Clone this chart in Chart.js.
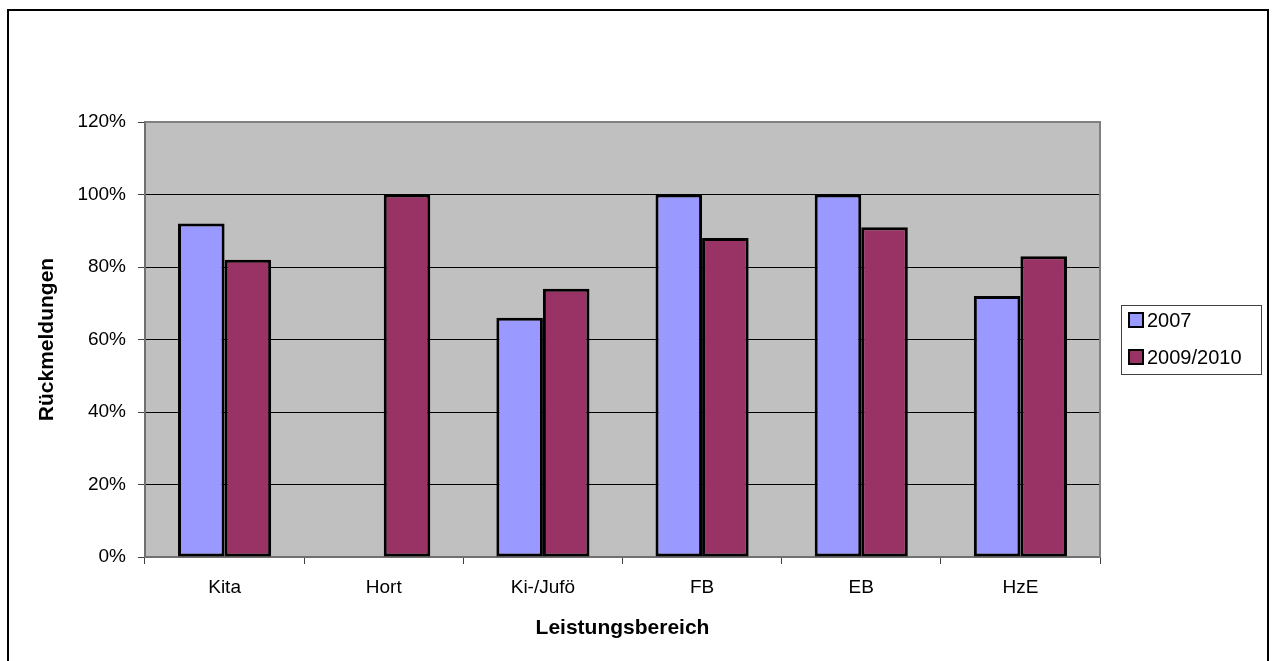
<!DOCTYPE html>
<html>
<head>
<meta charset="utf-8">
<script src="https://cdn.jsdelivr.net/npm/chart.js@4"></script>
<style>
html,body{margin:0;padding:0;background:#fff;}
#wrap{width:1272px;height:661px;}
</style>
</head>
<body>
<div id="wrap"><canvas id="c" width="1272" height="661"></canvas></div>
<script>
const categories = ["Kita", "Hort", "Ki-/Jufö", "FB", "EB", "HzE"];
const values2007 = [92, null, 66, 100, 100, 72];
const values2009 = [82, 100, 74, 88, 91, 83];
const seriesLabels = ["2007", "2009/2010"];
const seriesColors = ["#9999FF", "#993366"];
const yTicks = [0, 20, 40, 60, 80, 100, 120];
const yTitle = "Rückmeldungen";
const xTitle = "Leistungsbereich";

const FONT = "'Liberation Sans', Arial, sans-serif";

const framePlugin = {
  id: 'frame',
  beforeDraw(chart) {
    const {ctx, chartArea: a} = chart;
    ctx.save();
    ctx.fillStyle = '#fff';
    ctx.fillRect(0, 0, chart.width, chart.height);
    ctx.fillStyle = '#C0C0C0';
    ctx.fillRect(a.left, a.top, a.right - a.left, a.bottom - a.top);
    ctx.restore();
  },
  afterDraw(chart) {
    const {ctx, chartArea: a} = chart;
    ctx.save();
    ctx.strokeStyle = '#808080';
    ctx.lineWidth = 2;
    ctx.beginPath();
    ctx.moveTo(a.left, a.top);
    ctx.lineTo(a.right, a.top);
    ctx.lineTo(a.right, a.bottom);
    ctx.stroke();
    ctx.strokeStyle = '#000';
    ctx.lineWidth = 2;
    ctx.strokeRect(8, 10, 1260, 660);
    const lx = 1121, ly = 305, lw = 140, lh = 69;
    ctx.fillStyle = '#fff';
    ctx.fillRect(lx, ly, lw, lh);
    ctx.strokeStyle = '#404040';
    ctx.lineWidth = 1;
    ctx.strokeRect(lx + 0.5, ly + 0.5, lw, lh);
    ctx.font = '20px ' + FONT;
    ctx.textBaseline = 'middle';
    ctx.textAlign = 'left';
    chart.data.datasets.forEach((ds, i) => {
      const cy = 320 + i * 37;
      ctx.fillStyle = ds.backgroundColor;
      ctx.fillRect(1129, cy - 7, 14, 14);
      ctx.strokeStyle = '#000';
      ctx.lineWidth = 2;
      ctx.strokeRect(1129, cy - 7, 14, 14);
      ctx.fillStyle = '#000';
      ctx.fillText(ds.label, 1147, cy + 1);
    });
    ctx.restore();
  }
};

new Chart(document.getElementById('c'), {
  type: 'bar',
  data: {
    labels: categories,
    datasets: [
      {label: seriesLabels[0], data: values2007, backgroundColor: seriesColors[0], borderColor: '#000', borderWidth: 3, borderSkipped: false},
      {label: seriesLabels[1], data: values2009, backgroundColor: seriesColors[1], borderColor: '#000', borderWidth: 3, borderSkipped: false}
    ]
  },
  options: {
    responsive: false,
    animation: false,
    devicePixelRatio: 1,
    layout: {padding: {top: 122, right: 172, left: 0, bottom: 0}},
    datasets: {bar: {categoryPercentage: 0.585, barPercentage: 1.0}},
    plugins: {legend: {display: false}, tooltip: {enabled: false}, title: {display: false}},
    scales: {
      x: {
        afterFit(s) { s.height = 104; },
        grid: {drawOnChartArea: false, drawTicks: true, tickLength: 7, tickColor: '#404040', offset: true},
        border: {color: '#707070', width: 2},
        ticks: {color: '#000', font: {family: FONT, size: 19}, padding: 12, maxRotation: 0},
        title: {display: true, text: xTitle, color: '#000', font: {family: FONT, size: 21, weight: 'bold'}, padding: {top: 0, bottom: 20}}
      },
      y: {
        min: 0, max: 120,
        afterFit(s) { s.width = 145; },
        afterBuildTicks(s) { s.ticks = yTicks.map(v => ({value: v})); },
        grid: {color: '#000', lineWidth: 1, drawTicks: true, tickLength: 7, tickColor: '#404040'},
        border: {color: '#707070', width: 2},
        ticks: {color: '#000', font: {family: FONT, size: 19}, padding: 12, callback: v => v + '%'},
        title: {display: true, text: yTitle, color: '#000', font: {family: FONT, size: 21, weight: 'bold'}, padding: {top: 35, bottom: 0}}
      }
    }
  },
  plugins: [framePlugin]
});
</script>
</body>
</html>
